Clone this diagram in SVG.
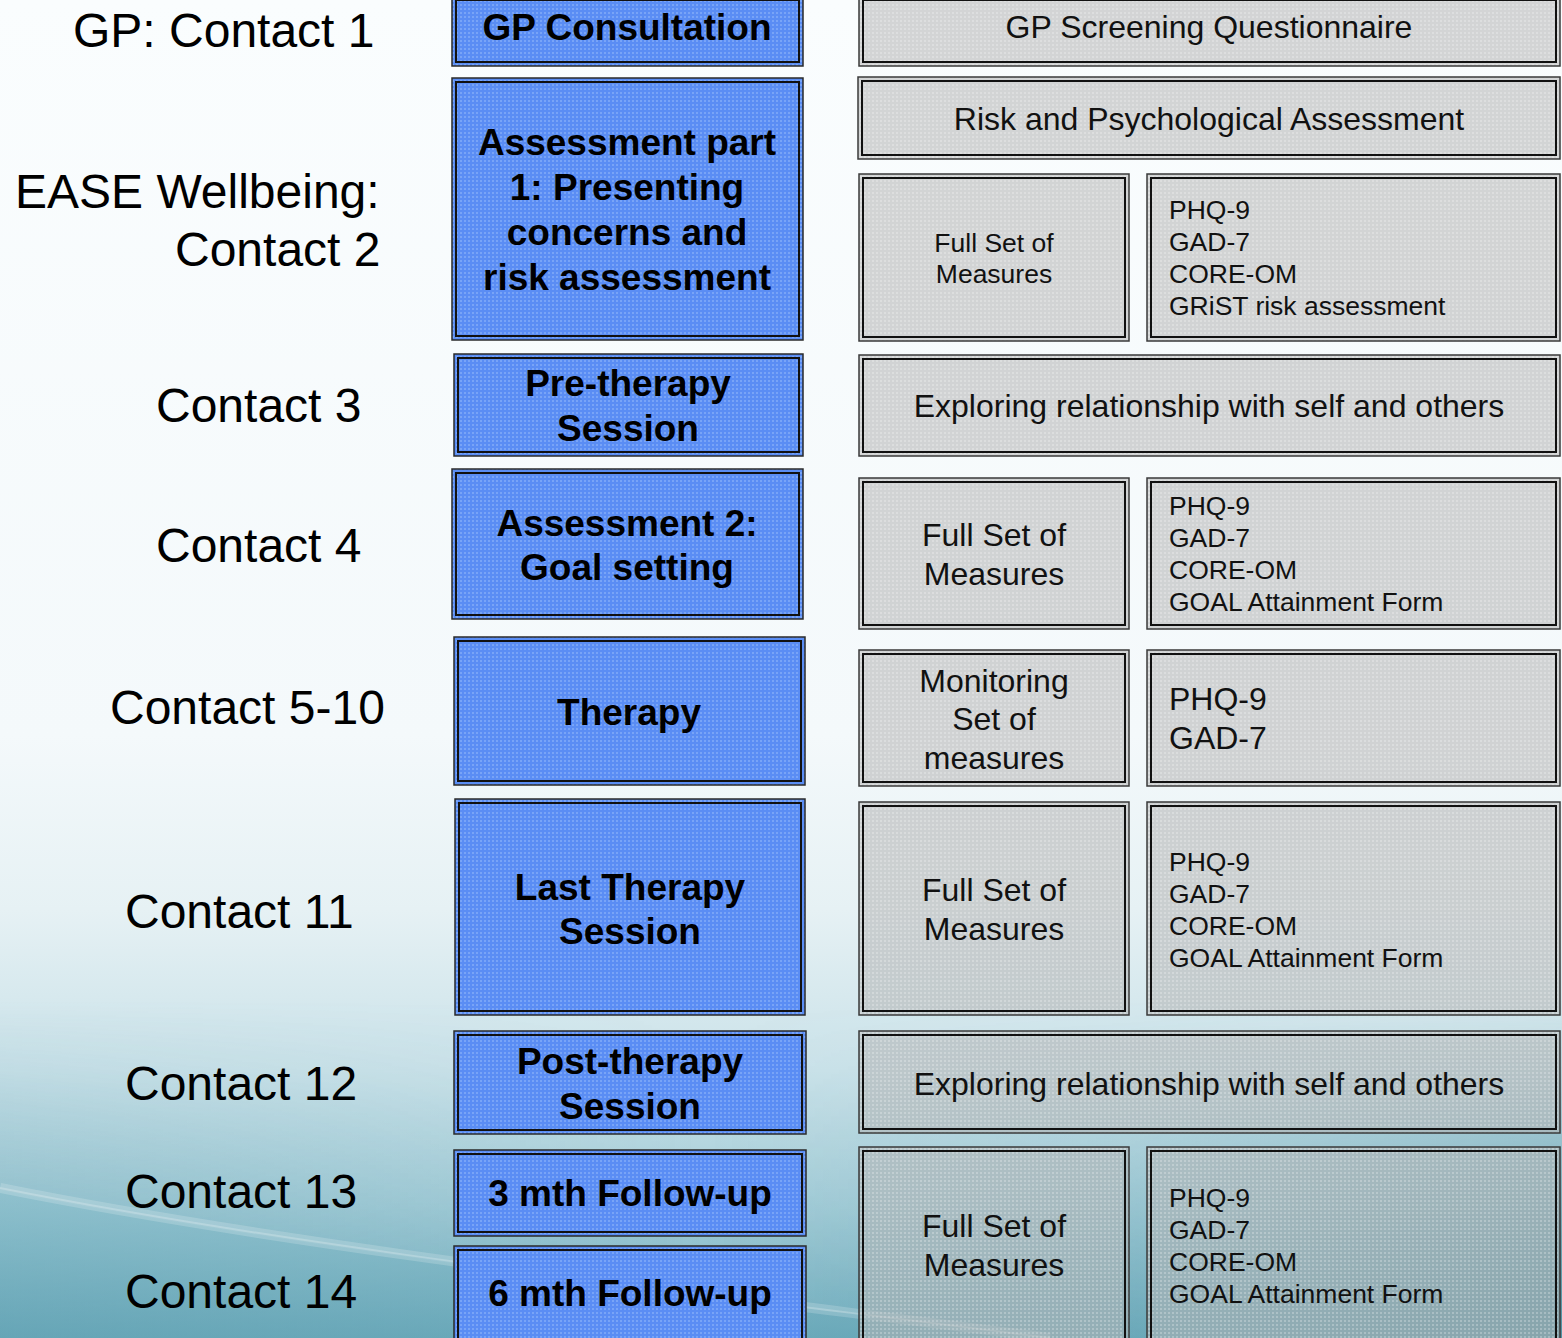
<svg xmlns="http://www.w3.org/2000/svg" width="1562" height="1338" viewBox="0 0 1562 1338">
<defs>
<linearGradient id="bg" x1="0" y1="0" x2="0" y2="1">
<stop offset="0" stop-color="#fafdfe"/>
<stop offset="0.55" stop-color="#f4f9fb"/>
<stop offset="0.68" stop-color="#e6f1f4"/>
<stop offset="0.8" stop-color="#cae2e9"/>
<stop offset="0.9" stop-color="#a3ccd7"/>
<stop offset="1" stop-color="#72aebe"/>
</linearGradient>
<linearGradient id="side" x1="0" y1="0" x2="1" y2="0">
<stop offset="0" stop-color="#4f93a6" stop-opacity="0.35"/>
<stop offset="0.45" stop-color="#4f93a6" stop-opacity="0"/>
<stop offset="0.72" stop-color="#4f93a6" stop-opacity="0.2"/>
<stop offset="1" stop-color="#3a8092" stop-opacity="0.6"/>
</linearGradient>
<linearGradient id="fadeUp" x1="0" y1="0" x2="0" y2="1">
<stop offset="0" stop-color="#fff" stop-opacity="0"/>
<stop offset="1" stop-color="#fff" stop-opacity="1"/>
</linearGradient>
<mask id="lowmask">
<rect x="0" y="1000" width="1562" height="338" fill="url(#fadeUp)"/>
</mask>
<linearGradient id="low" x1="0" y1="0" x2="0" y2="1">
<stop offset="0" stop-color="#8cc0cd"/>
<stop offset="1" stop-color="#66a6b7"/>
</linearGradient>
<pattern id="bdots" width="4" height="4" patternUnits="userSpaceOnUse">
<rect width="4" height="4" fill="#5a8df4"/>
<rect width="2" height="2" fill="#78a4f7"/>
</pattern>
<pattern id="gdots" width="4" height="4" patternUnits="userSpaceOnUse">
<rect width="4" height="4" fill="#b2b2b2" fill-opacity="0.55"/>
<rect width="2" height="2" fill="#ffffff" fill-opacity="0.25"/>
</pattern>
<style>
.blue{fill:url(#bdots);stroke:#2a2a2a;stroke-width:1.5}
.gray{fill:url(#gdots);stroke:#3a3a3a;stroke-width:1.5}
.inner{fill:none;stroke:#111;stroke-width:2}
.lab{font-family:"Liberation Sans",Arial,sans-serif;font-size:48px;fill:#000}
.bt{font-family:"Liberation Sans",Arial,sans-serif;font-size:37px;font-weight:bold;fill:#000;text-anchor:middle}
.gt{font-family:"Liberation Sans",Arial,sans-serif;font-size:32px;fill:#111;text-anchor:middle}
.gs{font-family:"Liberation Sans",Arial,sans-serif;font-size:26.5px;fill:#111}
.gm{font-family:"Liberation Sans",Arial,sans-serif;font-size:32px;fill:#111;text-anchor:middle}
</style>
</defs>
<g id="background">
<rect width="1562" height="1338" fill="url(#bg)"/>
<rect x="0" y="1000" width="1562" height="338" fill="url(#side)" mask="url(#lowmask)"/>
<path d="M0,1190 C300,1250 700,1295 1050,1338 L0,1338 Z" fill="url(#low)" opacity="0.6"/>
<path d="M0,1188 C300,1248 700,1293 1050,1338" fill="none" stroke="#ffffff" stroke-opacity="0.18" stroke-width="10"/>
<path d="M0,1188 C300,1248 700,1293 1050,1338" fill="none" stroke="#ffffff" stroke-opacity="0.22" stroke-width="2"/>
</g>
<g id="labels">
<text class="lab" x="73" y="47">GP: Contact 1</text>
<text class="lab" x="15" y="208">EASE Wellbeing:</text>
<text class="lab" x="175" y="266">Contact 2</text>
<text class="lab" x="156" y="422">Contact 3</text>
<text class="lab" x="156" y="562">Contact 4</text>
<text class="lab" x="110" y="724">Contact 5-10</text>
<text class="lab" x="125" y="928">Contact 11</text>
<text class="lab" x="125" y="1100">Contact 12</text>
<text class="lab" x="125" y="1208">Contact 13</text>
<text class="lab" x="125" y="1308">Contact 14</text>
</g>
<g id="connectors"/>
<g id="n-gp-consultation">
<rect class="blue" x="452" y="-4" width="351" height="70"/><rect class="inner" x="456" y="0" width="343" height="62"/>
<text class="bt" x="627" y="40">GP Consultation</text>
</g>
<g id="n-assessment1">
<rect class="blue" x="452" y="78" width="351" height="262"/><rect class="inner" x="456" y="82" width="343" height="254"/>
<text class="bt" x="627" y="155">Assessment part</text>
<text class="bt" x="627" y="200">1: Presenting</text>
<text class="bt" x="627" y="245">concerns and</text>
<text class="bt" x="627" y="290">risk assessment</text>
</g>
<g id="n-pretherapy">
<rect class="blue" x="454" y="354" width="349" height="102"/><rect class="inner" x="458" y="358" width="341" height="94"/>
<text class="bt" x="628" y="396">Pre-therapy</text>
<text class="bt" x="628" y="441">Session</text>
</g>
<g id="n-assessment2">
<rect class="blue" x="452" y="469" width="351" height="150"/><rect class="inner" x="456" y="473" width="343" height="142"/>
<text class="bt" x="627" y="536">Assessment 2:</text>
<text class="bt" x="627" y="580">Goal setting</text>
</g>
<g id="n-therapy">
<rect class="blue" x="454" y="637" width="351" height="148"/><rect class="inner" x="458" y="641" width="343" height="140"/>
<text class="bt" x="629" y="725">Therapy</text>
</g>
<g id="n-last-therapy">
<rect class="blue" x="455" y="799" width="350" height="216"/><rect class="inner" x="459" y="803" width="342" height="208"/>
<text class="bt" x="630" y="900">Last Therapy</text>
<text class="bt" x="630" y="944">Session</text>
</g>
<g id="n-post-therapy">
<rect class="blue" x="454" y="1031" width="352" height="103"/><rect class="inner" x="458" y="1035" width="344" height="95"/>
<text class="bt" x="630" y="1074">Post-therapy</text>
<text class="bt" x="630" y="1119">Session</text>
</g>
<g id="n-3mth">
<rect class="blue" x="454" y="1150" width="352" height="86"/><rect class="inner" x="458" y="1154" width="344" height="78"/>
<text class="bt" x="630" y="1206">3 mth Follow-up</text>
</g>
<g id="n-6mth">
<rect class="blue" x="454" y="1246" width="352" height="100"/><rect class="inner" x="458" y="1250" width="344" height="92"/>
<text class="bt" x="630" y="1306">6 mth Follow-up</text>
</g>
<g id="n-gp-screening">
<rect class="gray" x="859" y="-4" width="701" height="70"/><rect class="inner" x="863" y="0" width="693" height="62"/>
<text class="gt" x="1209" y="38">GP Screening Questionnaire</text>
</g>
<g id="n-risk">
<rect class="gray" x="858" y="77" width="702" height="82"/><rect class="inner" x="862" y="81" width="694" height="74"/>
<text class="gt" x="1209" y="130">Risk and Psychological Assessment</text>
</g>
<g id="n-fullset1">
<rect class="gray" x="859" y="174" width="270" height="167"/><rect class="inner" x="863" y="178" width="262" height="159"/>
<text class="gm" x="994" y="252" style="font-size:26.5px">Full Set of</text>
<text class="gm" x="994" y="283" style="font-size:26.5px">Measures</text>
</g>
<g id="n-measures1">
<rect class="gray" x="1147" y="174" width="413" height="167"/><rect class="inner" x="1151" y="178" width="405" height="159"/>
<text class="gs" x="1169" y="219">PHQ-9</text>
<text class="gs" x="1169" y="251">GAD-7</text>
<text class="gs" x="1169" y="283">CORE-OM</text>
<text class="gs" x="1169" y="315">GRiST risk assessment</text>
</g>
<g id="n-exploring1">
<rect class="gray" x="859" y="355" width="701" height="101"/><rect class="inner" x="863" y="359" width="693" height="93"/>
<text class="gt" x="1209" y="417">Exploring relationship with self and others</text>
</g>
<g id="n-fullset2">
<rect class="gray" x="859" y="478" width="270" height="151"/><rect class="inner" x="863" y="482" width="262" height="143"/>
<text class="gm" x="994" y="546">Full Set of</text>
<text class="gm" x="994" y="585">Measures</text>
</g>
<g id="n-measures2">
<rect class="gray" x="1147" y="478" width="413" height="151"/><rect class="inner" x="1151" y="482" width="405" height="143"/>
<text class="gs" x="1169" y="515">PHQ-9</text>
<text class="gs" x="1169" y="547">GAD-7</text>
<text class="gs" x="1169" y="579">CORE-OM</text>
<text class="gs" x="1169" y="611">GOAL Attainment Form</text>
</g>
<g id="n-monitoring">
<rect class="gray" x="859" y="650" width="270" height="136"/><rect class="inner" x="863" y="654" width="262" height="128"/>
<text class="gm" x="994" y="692">Monitoring</text>
<text class="gm" x="994" y="730">Set of</text>
<text class="gm" x="994" y="769">measures</text>
</g>
<g id="n-measures3">
<rect class="gray" x="1147" y="650" width="413" height="136"/><rect class="inner" x="1151" y="654" width="405" height="128"/>
<text class="gs" x="1169" y="710" style="font-size:32px">PHQ-9</text>
<text class="gs" x="1169" y="749" style="font-size:32px">GAD-7</text>
</g>
<g id="n-fullset3">
<rect class="gray" x="859" y="802" width="270" height="213"/><rect class="inner" x="863" y="806" width="262" height="205"/>
<text class="gm" x="994" y="901">Full Set of</text>
<text class="gm" x="994" y="940">Measures</text>
</g>
<g id="n-measures4">
<rect class="gray" x="1147" y="802" width="413" height="213"/><rect class="inner" x="1151" y="806" width="405" height="205"/>
<text class="gs" x="1169" y="871">PHQ-9</text>
<text class="gs" x="1169" y="903">GAD-7</text>
<text class="gs" x="1169" y="935">CORE-OM</text>
<text class="gs" x="1169" y="967">GOAL Attainment Form</text>
</g>
<g id="n-exploring2">
<rect class="gray" x="859" y="1031" width="701" height="102"/><rect class="inner" x="863" y="1035" width="693" height="94"/>
<text class="gt" x="1209" y="1095">Exploring relationship with self and others</text>
</g>
<g id="n-fullset4">
<rect class="gray" x="859" y="1147" width="270" height="200"/><rect class="inner" x="863" y="1151" width="262" height="192"/>
<text class="gm" x="994" y="1237">Full Set of</text>
<text class="gm" x="994" y="1276">Measures</text>
</g>
<g id="n-measures5">
<rect class="gray" x="1147" y="1147" width="413" height="200"/><rect class="inner" x="1151" y="1151" width="405" height="192"/>
<text class="gs" x="1169" y="1207">PHQ-9</text>
<text class="gs" x="1169" y="1239">GAD-7</text>
<text class="gs" x="1169" y="1271">CORE-OM</text>
<text class="gs" x="1169" y="1303">GOAL Attainment Form</text>
</g>
</svg>
